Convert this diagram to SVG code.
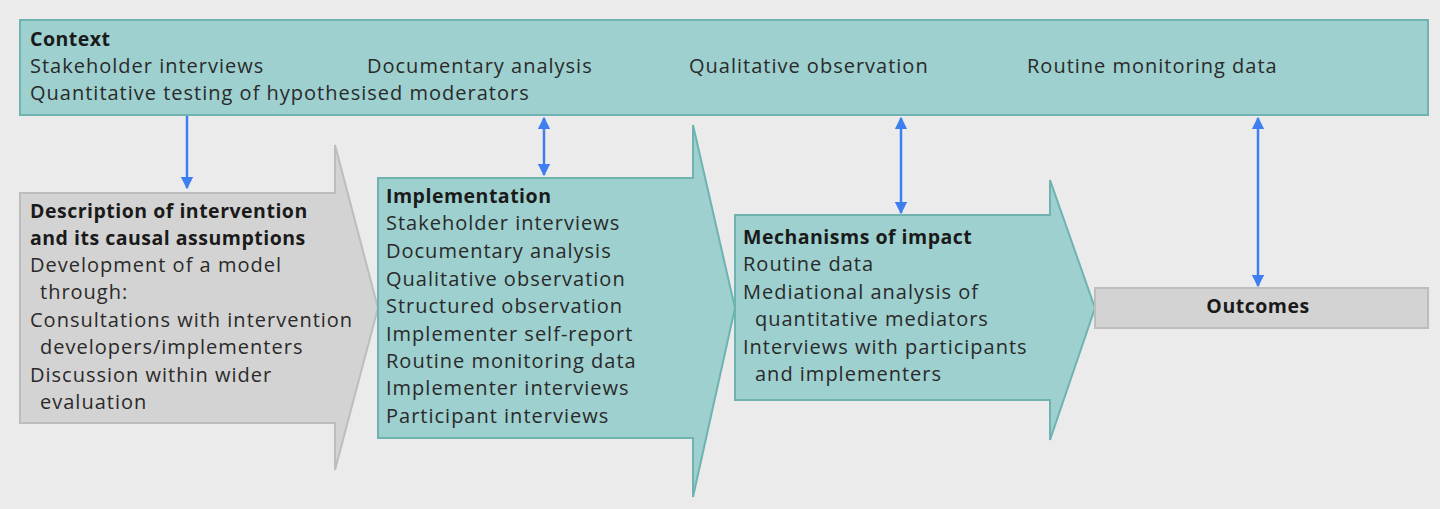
<svg xmlns="http://www.w3.org/2000/svg" width="1440" height="509" viewBox="0 0 1440 509">
<defs>
<style>
text{font-family:"Open Sans","Liberation Sans",Arial,sans-serif;font-size:20px;fill:#2a2a2a;letter-spacing:1px}
.b{font-weight:bold;fill:#1a1a1a;font-size:19.5px;letter-spacing:0.5px}
.teal{fill:#9dd0cf;stroke:#6fb3b1;stroke-width:2}
.gray{fill:#d3d3d3;stroke:#bdbdbd;stroke-width:2}
.con{stroke:#3d7ef0;stroke-width:2.5;fill:none}
</style>
<marker id="ah" viewBox="0 0 10 10" refX="9" refY="5" markerWidth="5" markerHeight="5" orient="auto-start-reverse"><path d="M0,0L10,5L0,10z" fill="#3d7ef0"/></marker>
</defs>
<rect width="1440" height="509" fill="#ebebeb"/>
<g id="context">
<rect x="20" y="20" width="1408" height="95" class="teal"/>
<text x="30" y="46" class="b">Context</text>
<text x="30" y="73">Stakeholder interviews</text>
<text x="367" y="73">Documentary analysis</text>
<text x="689" y="73">Qualitative observation</text>
<text x="1027" y="73">Routine monitoring data</text>
<text x="30" y="100">Quantitative testing of hypothesised moderators</text>
</g>
<g id="description">
<path d="M20,193H335V145L378,308L335,470V423H20Z" class="gray"/>
<text x="30" y="218" class="b">Description of intervention</text>
<text x="30" y="245" class="b">and its causal assumptions</text>
<text x="30" y="272">Development of a model</text>
<text x="40" y="299">through:</text>
<text x="30" y="327">Consultations with intervention</text>
<text x="40" y="354">developers/implementers</text>
<text x="30" y="382">Discussion within wider</text>
<text x="40" y="409">evaluation</text>
</g>
<g id="implementation">
<path d="M378,178H693V125L735,308L693,497V438H378Z" class="teal"/>
<text x="386" y="203" class="b">Implementation</text>
<text x="386" y="230">Stakeholder interviews</text>
<text x="386" y="258">Documentary analysis</text>
<text x="386" y="286">Qualitative observation</text>
<text x="386" y="313">Structured observation</text>
<text x="386" y="341">Implementer self-report</text>
<text x="386" y="368">Routine monitoring data</text>
<text x="386" y="395">Implementer interviews</text>
<text x="386" y="423">Participant interviews</text>
</g>
<g id="mechanisms">
<path d="M735,215H1050V180L1095,308L1050,440V400H735Z" class="teal"/>
<text x="743" y="244" class="b">Mechanisms of impact</text>
<text x="743" y="271">Routine data</text>
<text x="743" y="299">Mediational analysis of</text>
<text x="755" y="326">quantitative mediators</text>
<text x="743" y="354">Interviews with participants</text>
<text x="755" y="381">and implementers</text>
</g>
<g id="outcomes">
<rect x="1095" y="288" width="333" height="40" class="gray"/>
<text x="1258" y="313" class="b" text-anchor="middle">Outcomes</text>
</g>
<g id="connectors">
<line x1="187" y1="116" x2="187" y2="188" class="con" marker-end="url(#ah)"/>
<line x1="544" y1="118" x2="544" y2="175" class="con" marker-start="url(#ah)" marker-end="url(#ah)"/>
<line x1="901" y1="118" x2="901" y2="213" class="con" marker-start="url(#ah)" marker-end="url(#ah)"/>
<line x1="1258" y1="118" x2="1258" y2="286" class="con" marker-start="url(#ah)" marker-end="url(#ah)"/>
</g>
</svg>
